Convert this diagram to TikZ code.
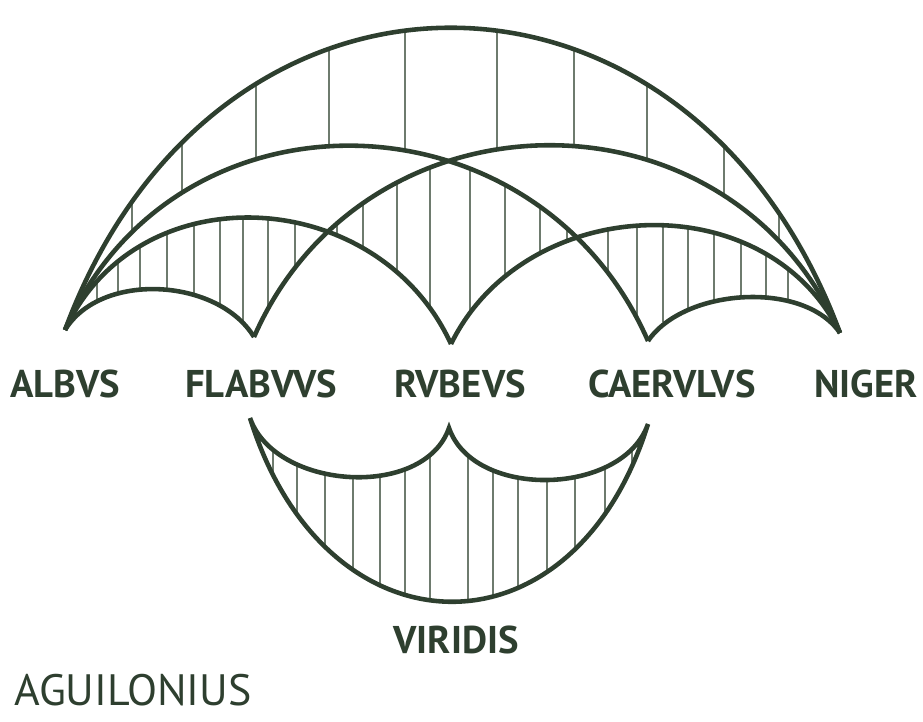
\documentclass[tikz,border=0pt]{standalone}
\usepackage{fontspec}
\setmainfont{PT Sans}
\usepackage{tikz}
\definecolor{ink}{HTML}{2E3F2F}
\definecolor{hatchc}{HTML}{6E7B6E}
% arch outlines on the pixel grid (y runs downwards)
\newcommand{\arcAN}{(A) .. controls +(150,-405) and +(-150,-405) .. (N)}
\newcommand{\arcAC}{(A) .. controls +(111,-253) and +(-111,-253) .. (C)}
\newcommand{\arcFN}{(F) .. controls +(111,-253) and +(-111,-253) .. (N)}
\newcommand{\arcAR}{(A) .. controls +(73,-159) and +(-73,-159) .. (R)}
\newcommand{\arcRN}{(R) .. controls +(74,-151) and +(-74,-151) .. (N)}
\newcommand{\arcAF}{(A) .. controls +(36,-59) and +(-36,-59) .. (F)}
\newcommand{\arcCN}{(C) .. controls +(36,-53) and +(-36,-53) .. (N)}
\newcommand{\viridis}{(VL) .. controls +(75,241) and +(-75,241) .. (VR)
  .. controls +(-25,72) and +(25,72) .. (VM)
  .. controls +(-25,72) and +(25,72) .. (VL) -- cycle}
\newcommand{\frameall}{(0,0) rectangle (923,722)}

\begin{document}
\begin{tikzpicture}[x=0.1mm,y=-0.1mm,
  arch/.style={draw=ink,line width=1.3pt},
  hatch/.style={draw=hatchc,line width=0.35pt},
  lbl/.style={text=ink,inner sep=0pt,font=\fontsize{11}{13}\selectfont\bfseries}]
\useasboundingbox \frameall;
\coordinate (A) at (65,330);
\coordinate (F) at (254,337);
\coordinate (R) at (451,344);
\coordinate (C) at (648,341);
\coordinate (N) at (840,333);
\coordinate (VL) at (250,418);
\coordinate (VM) at (449,428);
\coordinate (VR) at (648,424);
% band under the great arch
\begin{scope}[even odd rule]
  \clip \arcAN -- cycle;
  \clip \frameall \arcAC -- cycle;
  \clip \frameall \arcFN -- cycle;
  \foreach \x in {132,182,256,329,405,497,574,647,724,779}
    \draw[hatch] (\x,0) -- (\x,320);
\end{scope}
% middle lens
\begin{scope}[even odd rule]
  \clip \arcAC -- cycle;
  \clip \arcFN -- cycle;
  \clip \frameall \arcAR -- cycle;
  \clip \frameall \arcRN -- cycle;
  \foreach \x in {337,363,397,430,470,505,540,567}
    \draw[hatch] (\x,0) -- (\x,320);
\end{scope}
% left and right small bands
\begin{scope}[even odd rule]
  \clip \arcAR -- cycle;
  \clip \frameall \arcAF -- cycle;
  \clip \frameall \arcFN -- cycle;
  \foreach \x in {97,118,140,167,194,220,243,268,295}
    \draw[hatch] (\x,0) -- (\x,322);
\end{scope}
\begin{scope}[even odd rule]
  \clip \arcRN -- cycle;
  \clip \frameall \arcCN -- cycle;
  \clip \frameall \arcAC -- cycle;
  \foreach \x in {608,637,663,688,714,741,766,788}
    \draw[hatch] (\x,0) -- (\x,322);
\end{scope}
% green bowl
\begin{scope}
  \clip \viridis;
  \foreach \x in {273,297,325,353,380,405,430,468,493,518,547,575,605,632}
    \draw[hatch] (\x,400) -- (\x,640);
\end{scope}
\draw[arch] \arcAN;
\draw[arch] \arcAC;
\draw[arch] \arcFN;
\draw[arch] \arcAR;
\draw[arch] \arcRN;
\draw[arch] \arcAF;
\draw[arch] \arcCN;
\draw[arch,miter limit=6] \viridis;
\node[lbl] (albus) at (65,384) {ALBVS};
\node[lbl] (flavus) at (261,384) {FLABVVS};
\node[lbl] (rubeus) at (460,384) {RVBEVS};
\node[lbl] (caeruleus) at (672,384) {CAERVLVS};
\node[lbl] (niger) at (866,384) {NIGER};
\node[lbl] (viridis) at (456,640) {VIRIDIS};
\node[lbl,font=\fontsize{12.5}{15}\selectfont] (aguilonius) at (133,690) {AGUILONIUS};
\end{tikzpicture}
\end{document}
